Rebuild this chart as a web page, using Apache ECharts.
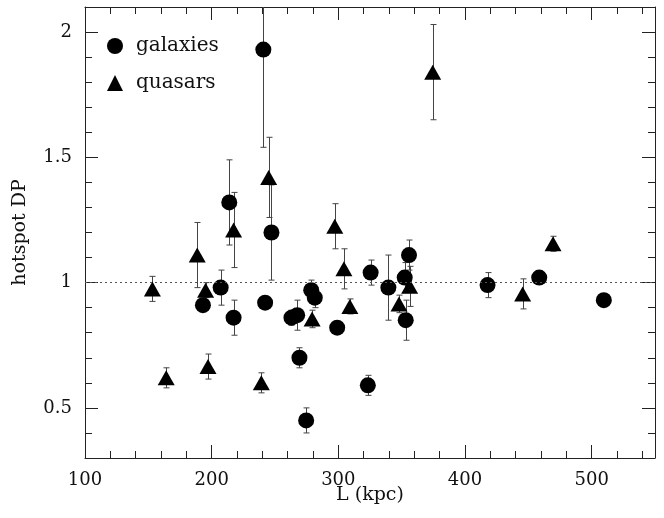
<!DOCTYPE html>
<html>
<head>
<meta charset="utf-8">
<script src="https://cdn.jsdelivr.net/npm/echarts@6/dist/echarts.min.js"></script>
<style>
  html, body { margin: 0; padding: 0; background: #fff; }
  #main { width: 664px; height: 518px; }
</style>
</head>
<body>
<div id="main"></div>
<script>
// data: L (kpc), hotspot DP, symmetric error
var galaxyL   = [240.8, 213.9, 247.2, 193.1, 207.1, 217.3, 242.2, 263.0, 267.5, 278.6, 281.4, 299.1, 269.3, 274.6, 323.3, 325.5, 339.5, 352.4, 355.8, 353.2, 417.8, 458.6, 509.6];
var galaxyDP  = [1.93, 1.32, 1.20, 0.91, 0.98, 0.86, 0.92, 0.86, 0.87, 0.97, 0.94, 0.82, 0.70, 0.45, 0.59, 1.04, 0.98, 1.02, 1.11, 0.85, 0.99, 1.02, 0.93];
var galaxyErr = [0.39, 0.17, 0.19, 0, 0.07, 0.07, 0, 0.03, 0.06, 0.04, 0.04, 0, 0.04, 0.05, 0.04, 0.05, 0.13, 0.06, 0.06, 0.08, 0.05, 0, 0];

var quasarL   = [153.2, 164.1, 188.6, 195.2, 197.1, 217.3, 239.2, 245.0, 279.3, 297.2, 304.4, 309.1, 347.9, 356.3, 374.5, 445.5, 469.5];
var quasarDP  = [0.975, 0.62, 1.11, 0.97, 0.665, 1.21, 0.60, 1.42, 0.855, 1.225, 1.055, 0.905, 0.915, 0.985, 1.84, 0.955, 1.155];
var quasarErr = [0.05, 0.04, 0.13, 0.03, 0.05, 0.15, 0.04, 0.16, 0.035, 0.09, 0.08, 0.03, 0.035, 0.08, 0.19, 0.06, 0.03];

var xMajor = [100, 200, 300, 400, 500];
var yMajor = [0.5, 1, 1.5, 2];

var myChart = echarts.init(document.getElementById('main'));

var font = 'DejaVu Serif';
var ink = '#222';

function zip(xs, ys, es) {
    var out = [];
    for (var i = 0; i < xs.length; i++) out.push(es ? [xs[i], ys[i], es[i]] : [xs[i], ys[i]]);
    return out;
}

function renderErr(params, api) {
    var e = api.value(2);
    if (!e) return null;
    var x = api.value(0), y = api.value(1);
    var top = api.coord([x, y + e]);
    var bot = api.coord([x, y - e]);
    var px = Math.round(top[0]) + 0.5;
    var w = 3;
    var st = { stroke: '#444', lineWidth: 1 };
    return {
        type: 'group',
        children: [
            { type: 'line', shape: { x1: px, y1: top[1], x2: px, y2: bot[1] }, style: st },
            { type: 'line', shape: { x1: px - w, y1: top[1], x2: px + w, y2: top[1] }, style: st },
            { type: 'line', shape: { x1: px - w, y1: bot[1], x2: px + w, y2: bot[1] }, style: st }
        ]
    };
}

function xAx(pos, major) {
    return {
        type: 'value', position: pos, min: 100, max: 550,
        interval: major ? 100 : 20,
        axisLine: { show: !major, onZero: false, lineStyle: { color: ink, width: 1 } },
        axisTick: major
            ? { show: true, inside: true, length: 13, customValues: xMajor, lineStyle: { color: ink } }
            : { show: true, inside: true, length: 7, lineStyle: { color: ink } },
        axisLabel: (major && pos === 'bottom')
            ? { show: true, customValues: xMajor, margin: 13, fontFamily: font, fontSize: 18, color: '#111' }
            : { show: false },
        splitLine: { show: false },
        name: (major && pos === 'bottom') ? 'L (kpc)' : '',
        nameLocation: 'middle', nameGap: 28, nameMoveOverlap: false,
        nameTextStyle: { fontFamily: font, fontSize: 19, color: '#111' }
    };
}

function yAx(pos, major) {
    return {
        type: 'value', position: pos, min: 0.3, max: 2.1,
        interval: 0.1,
        axisLine: { show: !major, onZero: false, lineStyle: { color: ink, width: 1 } },
        axisTick: major
            ? { show: true, inside: true, length: 13, customValues: yMajor, lineStyle: { color: ink } }
            : { show: true, inside: true, length: 7, lineStyle: { color: ink } },
        axisLabel: (major && pos === 'left')
            ? { show: true, customValues: yMajor, margin: 13, fontFamily: font, fontSize: 18, color: '#111' }
            : { show: false },
        splitLine: { show: false },
        name: (major && pos === 'left') ? 'hotspot DP' : '',
        nameLocation: 'middle', nameGap: 55, nameMoveOverlap: false,
        nameTextStyle: { fontFamily: font, fontSize: 19, color: '#111' }
    };
}

var option = {
    animation: false,
    backgroundColor: '#fff',
    grid: { left: 85, right: 9, top: 7, bottom: 60, containLabel: false },
    legend: {
        orient: 'vertical', left: 102, top: 31,
        itemWidth: 16, itemHeight: 16, itemGap: 17,
        itemStyle: { opacity: 1 },
        textStyle: { fontFamily: font, fontSize: 20, color: '#111', padding: [0, 0, 0, 8] },
        data: [
            { name: 'galaxies', icon: 'circle' },
            { name: 'quasars', icon: 'triangle' }
        ]
    },
    xAxis: [xAx('bottom', false), xAx('bottom', true), xAx('top', false), xAx('top', true)],
    yAxis: [yAx('left', false), yAx('left', true), yAx('right', false), yAx('right', true)],
    series: [
        {
            name: 'galaxy errors', type: 'custom', clip: true, z: 2,
            renderItem: renderErr, data: zip(galaxyL, galaxyDP, galaxyErr)
        },
        {
            name: 'quasar errors', type: 'custom', clip: true, z: 2,
            renderItem: renderErr, data: zip(quasarL, quasarDP, quasarErr)
        },
        {
            name: 'galaxies', type: 'scatter', symbol: 'circle', symbolSize: 16, z: 3,
            itemStyle: { color: '#000', opacity: 1 },
            data: zip(galaxyL, galaxyDP),
            markLine: {
                silent: true, symbol: 'none', label: { show: false },
                lineStyle: { type: [2, 3], color: '#555', width: 1 },
                data: [{ yAxis: 1 }]
            }
        },
        {
            name: 'quasars', type: 'scatter', symbol: 'triangle', symbolSize: [17, 15], z: 3,
            itemStyle: { color: '#000', opacity: 1 },
            data: zip(quasarL, quasarDP)
        }
    ]
};

myChart.setOption(option);
</script>
</body>
</html>
